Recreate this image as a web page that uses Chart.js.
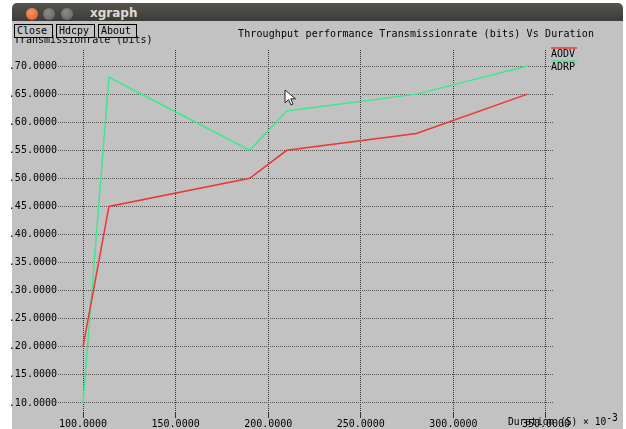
<!DOCTYPE html>
<html>
<head>
<meta charset="utf-8">
<script src="https://cdn.jsdelivr.net/npm/chart.js@4"></script>
<style>
  body { margin: 0; background: #fff; width: 626px; height: 429px; overflow: hidden; position: relative; }
  .mono { font-family: 'DejaVu Sans Mono', monospace; font-size: 10px; line-height: 12px; color: #000; position: absolute; white-space: pre; }
  #win { position: absolute; left: 12px; top: 21px; width: 611px; height: 408px; background: #c2c2c2; }
  #bar { position: absolute; left: 12px; top: 3px; width: 611px; height: 18px; border-radius: 5px 5px 0 0;
         background: linear-gradient(#55544f, #3c3b37); }
  .dot { position: absolute; width: 12px; height: 12px; border-radius: 50%; top: 5px; }
  #bar-title { position: absolute; left: 78px; top: 3px; font: bold 12px 'DejaVu Sans', sans-serif; color: #dfdbd2; line-height: 14px; }
  .btn { position: absolute; top: 24px; height: 12px; border: 1px solid #000; background: #c2c2c2;
         font-family: 'DejaVu Sans Mono', monospace; font-size: 10px; line-height: 12px; padding: 0 2px; }
  canvas { position: absolute; left: 0; top: 0; }
</style>
</head>
<body>
<div id="win"></div>
<div id="bar">
  <div class="dot" style="left:14px;background:radial-gradient(circle at 40% 35%, #f79866, #e0561f);"></div>
  <div class="dot" style="left:31px;background:radial-gradient(circle at 40% 35%, #8c8b86, #5f5e5a);"></div>
  <div class="dot" style="left:49px;background:radial-gradient(circle at 40% 35%, #8c8b86, #5f5e5a);"></div>
  <div id="bar-title">xgraph</div>
</div>
<canvas id="chart" width="626" height="429"></canvas>
<div class="mono" style="left:14px;top:34px;">Transmissionrate (bits)</div>
<div class="mono" style="left:238px;top:28px;letter-spacing:0.12px;">Throughput performance Transmissionrate (bits) Vs Duration</div>
<div class="mono" style="left:508px;top:416px;font-size:9.6px;">Duration (S) × 10<span style="position:relative;top:-4px;">-3</span></div>
<div class="btn" style="left:14px;width:33px;">Close</div>
<div class="btn" style="left:56px;width:33px;">Hdcpy</div>
<div class="btn" style="left:98px;width:33px;">About</div>
<svg style="position:absolute;left:284px;top:89px;" width="14" height="18" viewBox="0 0 14 18">
  <path d="M1 1 L1 14 L4.5 10.5 L7 16 L9 15 L6.8 9.8 L11.5 9.8 Z" fill="#fff" stroke="#222" stroke-width="1"/>
</svg>
<script>
const durations = [100, 114, 190, 210, 280, 340];
const aodv = [20, 45, 50, 55, 58, 65];
const adrp = [10, 68, 55, 62, 65, 70];
const xTicks = [100, 150, 200, 250, 300, 350];
const yTicks = [10, 15, 20, 25, 30, 35, 40, 45, 50, 55, 60, 65, 70];

const monoFont = { family: 'DejaVu Sans Mono', size: 10 };

// xgraph style legend at the right edge, line above each name
const legendPlugin = {
  id: 'xgLegend',
  afterDraw(chart) {
    const ctx = chart.ctx;
    ctx.save();
    ctx.font = '10px "DejaVu Sans Mono"';
    ctx.textBaseline = 'middle';
    chart.data.datasets.forEach((ds, i) => {
      const y = 53 + i * 13;
      ctx.strokeStyle = ds.borderColor;
      ctx.lineWidth = 1.5;
      ctx.beginPath();
      ctx.moveTo(551, y - 5);
      ctx.lineTo(577, y - 5);
      ctx.stroke();
      ctx.fillStyle = '#000';
      ctx.fillText(ds.label, 551, y + 1);
    });
    ctx.restore();
  }
};

new Chart(document.getElementById('chart'), {
  type: 'line',
  data: {
    datasets: [
      {
        label: 'AODV',
        data: durations.map((d, i) => ({ x: d, y: aodv[i] })),
        borderColor: '#ee3535',
        borderWidth: 1.5,
        pointRadius: 0,
        tension: 0,
      },
      {
        label: 'ADRP',
        data: durations.map((d, i) => ({ x: d, y: adrp[i] })),
        borderColor: '#3ee88e',
        borderWidth: 1.5,
        pointRadius: 0,
        tension: 0,
      },
    ],
  },
  options: {
    responsive: false,
    animation: false,
    devicePixelRatio: 1,
    layout: { padding: { top: 50, right: 73, left: 0, bottom: 0 } },
    plugins: { legend: { display: false }, tooltip: { enabled: false } },
    scales: {
      x: {
        type: 'linear',
        min: 86.49,
        max: 353.78,
        afterBuildTicks: (scale) => { scale.ticks = xTicks.map(v => ({ value: v })); },
        afterFit: (scale) => { scale.height = 17; },
        grid: { color: '#333', lineWidth: 1, drawTicks: true, tickLength: 6 },
        border: { display: false, dash: [1, 1] },
        ticks: {
          autoSkip: false, maxRotation: 0, padding: 0, color: '#000', font: monoFont,
          callback: (v) => Number(v).toFixed(4),
        },
      },
      y: {
        min: 8.39,
        max: 72.86,
        afterBuildTicks: (scale) => { scale.ticks = yTicks.map(v => ({ value: v })); },
        afterFit: (scale) => { scale.width = 58; },
        grid: { color: '#555', lineWidth: 1, drawTicks: false },
        border: { display: false, dash: [1, 1] },
        ticks: {
          autoSkip: false, padding: 1, color: '#000', font: monoFont,
          callback: (v) => '.' + Number(v).toFixed(4),
        },
      },
    },
  },
  plugins: [legendPlugin],
});
</script>
</body>
</html>
